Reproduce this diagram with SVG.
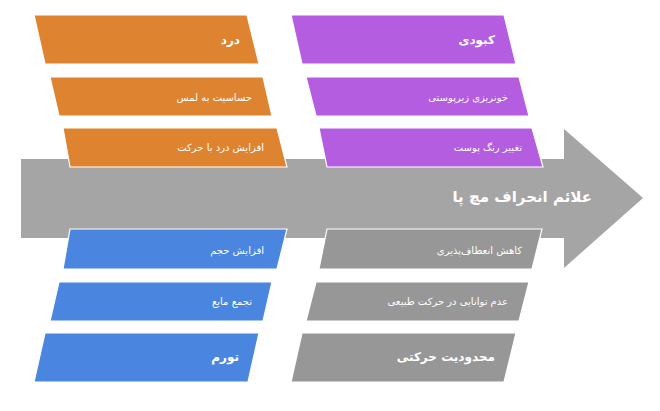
<svg xmlns="http://www.w3.org/2000/svg" width="660" height="411" viewBox="0 0 660 411">
<style>
.box{stroke:#ffffff;stroke-width:1.2}
.o{fill:#DE8431}
.p{fill:#B45DE1}
.b{fill:#4A86E0}
.g{fill:#979797}
text{font-family:"DejaVu Sans","Noto Sans",sans-serif;fill:#ffffff;text-anchor:end;dominant-baseline:central}
.s{font-size:10px}
.h{font-size:12px;font-weight:bold}
.t{font-size:15px;font-weight:bold}
</style>
<rect width="660" height="411" fill="#ffffff"/>
<g id="arrow">
<polygon points="21,159 564,159 564,129 643,198 564,268 564,238 21,238" fill="#A5A5A5"/>
<text class="t" x="592" y="197">علائم انحراف مچ پا</text>
</g>
<g id="connectors"></g>
<g id="dard"><polygon class="box o" points="34,15 247,15 259,64 45,64"/><text class="h" x="240" y="40">درد</text></g>
<g id="hassasiat"><polygon class="box o" points="50,77 263,77 272,116 59,116"/><text class="s" x="252" y="97">حساسیت به لمس</text></g>
<g id="afzayesh-dard"><polygon class="box o" points="63,128 277,128 287,167 70,167"/><text class="s" x="264" y="147">افزایش درد با حرکت</text></g>
<g id="kaboodi"><polygon class="box p" points="291,15 504,15 516,64 302,64"/><text class="h" x="495" y="40">کبودی</text></g>
<g id="khoonrizi"><polygon class="box p" points="306,77 519,77 529,116 316,116"/><text class="s" x="508" y="97">خونریزی زیرپوستی</text></g>
<g id="taghir-rang"><polygon class="box p" points="319,128 532,128 543,167 327,167"/><text class="s" x="522" y="147">تغییر رنگ پوست</text></g>
<g id="afzayesh-hajm"><polygon class="box b" points="70,229 287,229 277,269 63,269"/><text class="s" x="264" y="250">افزایش حجم</text></g>
<g id="tajamo"><polygon class="box b" points="59,282 272,282 263,321 50,321"/><text class="s" x="252" y="301">تجمع مایع</text></g>
<g id="tavarrom"><polygon class="box b" points="45,333 259,333 248,382 34,382"/><text class="h" x="239" y="357">تورم</text></g>
<g id="kahesh"><polygon class="box g" points="327,229 542,229 532,269 319,269"/><text class="s" x="522" y="250">کاهش انعطاف‌پذیری</text></g>
<g id="adam"><polygon class="box g" points="316,282 529,282 519,321 306,321"/><text class="s" x="508" y="301">عدم توانایی در حرکت طبیعی</text></g>
<g id="mahdoodiat"><polygon class="box g" points="302,333 516,333 504,382 291,382"/><text class="h" x="495" y="357">محدودیت حرکتی</text></g>
</svg>
